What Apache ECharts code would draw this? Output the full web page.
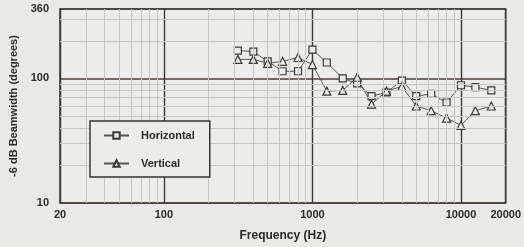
<!DOCTYPE html>
<html>
<head>
<meta charset="utf-8">
<script src="https://cdn.jsdelivr.net/npm/echarts@6/dist/echarts.min.js"></script>
<style>
  html, body { margin: 0; padding: 0; background: #e9e9e5; }
  #chart { width: 524px; height: 247px; }
</style>
</head>
<body>
<div id="chart"></div>
<script>
// 1/3 octave band centres (Hz)
const freqs = [315, 400, 500, 630, 800, 1000, 1250, 1600, 2000, 2500, 3150, 4000, 5000, 6300, 8000, 10000, 12500, 16000]
// -6 dB beamwidth (degrees)
const horizontal = [167, 164, 137, 114, 114, 170, 134, 100, 91, 72, 77, 96, 72, 75, 64, 88, 85, 80]
const vertical = [142, 142, 132, 137, 147, 129, 79, 80, 102, 62, 79, 86, 60, 55, 48, 42, 55, 60]
const seriesNames = ["Horizontal", "Vertical"]

// light log grid lines between the decades
const xMinor = [30, 40, 50, 60, 70, 80, 90, 200, 300, 400, 500, 600, 700, 800, 900, 2000, 3000, 4000, 5000, 6000, 7000, 8000, 9000]
const yMinor = [20, 30, 40, 50, 60, 70, 80, 90, 200, 300]

const ink = "#2a2a2a"
const paper = "#ecece8"

function pairs(xs, ys) {
  return xs.map((x, i) => [x, ys[i]])
}

const myChart = echarts.init(document.getElementById("chart"))

const option = {
  backgroundColor: "#e9e9e5",
  animation: false,
  textStyle: { fontFamily: "Liberation Sans, Arial, sans-serif" },
  grid: {
    left: 60,
    top: 9,
    right: 17,
    bottom: 42,
    show: true,
    backgroundColor: paper,
    borderColor: "#333",
    borderWidth: 1.5
  },
  legend: {
    data: seriesNames,
    orient: "vertical",
    left: 90,
    top: 121,
    z: 20,
    padding: [9, 15, 8, 13],
    itemGap: 17,
    itemWidth: 25,
    itemHeight: 8,
    backgroundColor: paper,
    borderColor: "#333",
    borderWidth: 1.5,
    borderRadius: 0,
    textStyle: { color: ink, fontSize: 11, fontWeight: "bold", padding: [0, 0, 0, 7] }
  },
  xAxis: {
    type: "log",
    logBase: 10,
    min: 20,
    max: 20000,
    name: "Frequency (Hz)",
    nameLocation: "middle",
    nameGap: 27,
    nameTextStyle: { color: ink, fontSize: 12, fontWeight: "bold" },
    axisLine: { show: false },
    axisTick: { show: false },
    axisLabel: {
      color: ink,
      fontSize: 11,
      fontWeight: "bold",
      margin: 6,
      formatter: (v) => String(Math.round(v))
    },
    splitLine: { show: true, lineStyle: { color: "#3a3a3a", width: 1.4 } }
  },
  yAxis: {
    type: "log",
    logBase: 10,
    min: 10,
    max: 360,
    name: "-6 dB Beamwidth (degrees)",
    nameLocation: "middle",
    nameGap: 36,
    nameTextStyle: { color: ink, fontSize: 11, fontWeight: "bold" },
    axisLine: { show: false },
    axisTick: { show: false },
    axisLabel: {
      color: ink,
      fontSize: 11,
      fontWeight: "bold",
      margin: 11,
      formatter: (v) => String(Math.round(v))
    },
    splitLine: { show: true, lineStyle: { color: "#4a4238", width: 1.6 } }
  },
  series: [
    {
      name: "grid",
      type: "line",
      data: [],
      silent: true,
      z: 0,
      markLine: {
        silent: true,
        symbol: "none",
        label: { show: false },
        lineStyle: { color: "#c9c9c3", width: 1, type: "solid" },
        data: xMinor.map((v) => ({ xAxis: v })).concat(yMinor.map((v) => ({ yAxis: v })))
      }
    },
    {
      name: seriesNames[0],
      type: "line",
      data: pairs(freqs, horizontal),
      symbol: "rect",
      symbolSize: 7,
      lineStyle: { color: "#555", width: 1 },
      itemStyle: { color: paper, borderColor: "#3a3a3a", borderWidth: 1.2 },
      z: 3
    },
    {
      name: seriesNames[1],
      type: "line",
      data: pairs(freqs, vertical),
      symbol: "triangle",
      symbolSize: 8,
      lineStyle: { color: "#555", width: 1 },
      itemStyle: { color: paper, borderColor: "#3a3a3a", borderWidth: 1.2 },
      z: 3
    }
  ]
}

myChart.setOption(option)
</script>
</body>
</html>
